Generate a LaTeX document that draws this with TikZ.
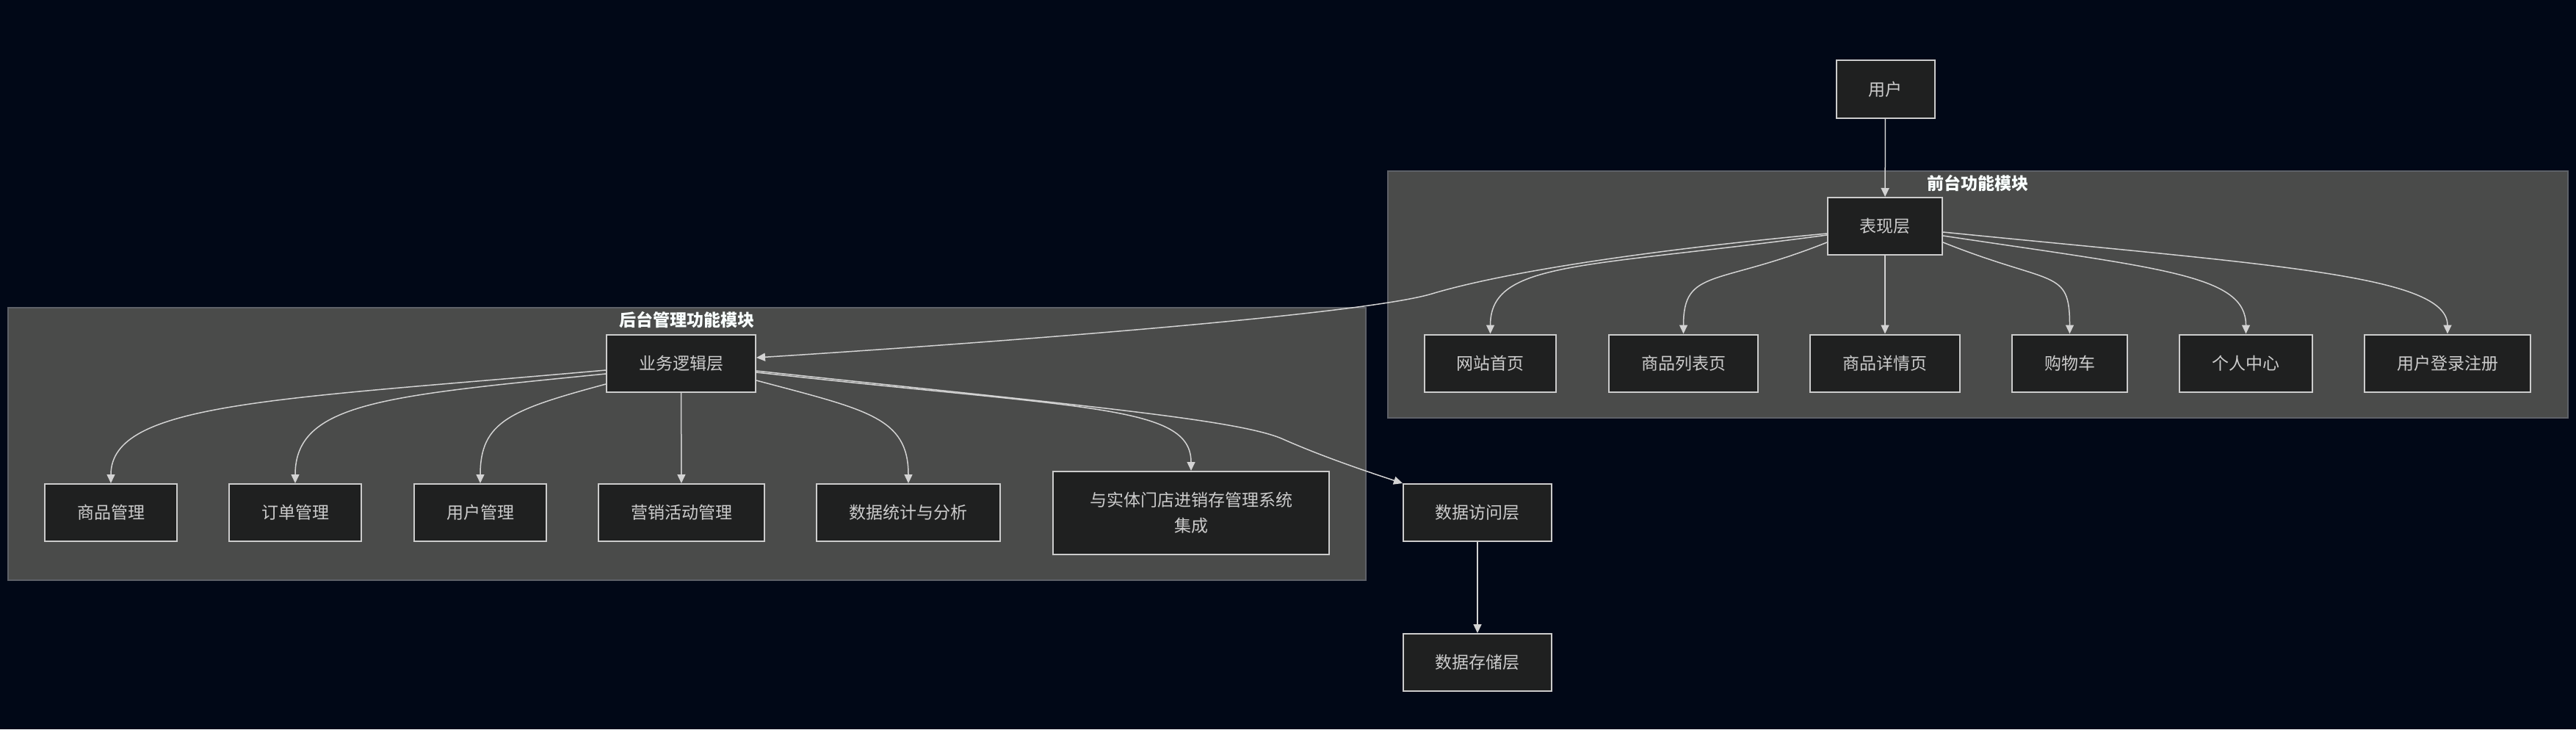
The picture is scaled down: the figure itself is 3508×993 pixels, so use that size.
\documentclass[tikz,border=0pt]{standalone}
\usepackage{fontspec}
\setmainfont{Noto Sans CJK SC}
\usetikzlibrary{arrows.meta,calc}
\definecolor{bgc}{HTML}{010817}
\definecolor{clfill}{HTML}{4A4B4A}
\definecolor{clborder}{HTML}{5E6168}
\definecolor{nfill}{HTML}{1F2020}
\definecolor{nborder}{HTML}{CCCCCC}
\definecolor{ntext}{HTML}{CCCCCC}
\definecolor{ttext}{HTML}{F9FFFE}
\definecolor{lclr}{HTML}{D3D3D3}
\begin{document}
\begin{tikzpicture}[x=1pt,y=-1pt,
  box/.style={draw=nborder, line width=2pt, fill=nfill, text=ntext, inner sep=0pt,
    font=\fontsize{23}{35}\selectfont, align=center, minimum height=78pt},
  cluster/.style={draw=clborder, line width=1.5pt, fill=clfill, inner sep=0pt},
  ctitle/.style={text=ttext, font=\fontsize{23}{28}\selectfont\bfseries},
  edge/.style={draw=lclr, line width=1.5pt, -{Triangle[length=12pt,width=11pt]}}
]
\useasboundingbox (0,0) rectangle (3508,993);
\fill[bgc] (0,0) rectangle (3508,993);

% clusters
\node[cluster, minimum width=1607pt, minimum height=336pt] (front) at (2693.5,401) {};
\node[cluster, minimum width=1849pt, minimum height=371pt] (back) at (935.5,604.5) {};
\node[ctitle] (ftitle) at (2693,250) {前台功能模块};
\node[ctitle] (btitle) at (935,436) {后台管理功能模块};

% nodes
\node[box, minimum width=134pt, minimum height=79pt] (user) at (2567.5,121.5) {用户};
\node[box, minimum width=156pt] (pres) at (2567,308) {表现层};
\node[box, minimum width=179pt] (home) at (2029.5,494.5) {网站首页};
\node[box, minimum width=203pt] (plist) at (2292.5,494.5) {商品列表页};
\node[box, minimum width=204pt] (pdetail) at (2567,494.5) {商品详情页};
\node[box, minimum width=157pt] (cart) at (2818.5,494.5) {购物车};
\node[box, minimum width=181pt] (ucenter) at (3058.5,494.5) {个人中心};
\node[box, minimum width=226pt] (login) at (3333,494.5) {用户登录注册};

\node[box, minimum width=203pt] (biz) at (927.5,495) {业务逻辑层};
\node[box, minimum width=180pt] (prod) at (151,698) {商品管理};
\node[box, minimum width=180pt] (order) at (402,698) {订单管理};
\node[box, minimum width=180pt] (umgmt) at (654,698) {用户管理};
\node[box, minimum width=226pt] (mkt) at (928,698) {营销活动管理};
\node[box, minimum width=250pt] (stats) at (1237,698) {数据统计与分析};
\node[box, minimum width=376pt, minimum height=113pt] (store) at (1622,698.5) {与实体门店进销存管理系统\\集成};
\node[box, minimum width=202pt] (dal) at (2012,698) {数据访问层};
\node[box, minimum width=202pt] (dsl) at (2012,902) {数据存储层};

% edges
\draw[edge] (user) -- (pres);
\draw[edge] ($(pres.west)+(0,12)$) .. controls +(-330,45) and +(0,-100) .. (home.north);
\draw[edge] ($(pres.west)+(0,22)$) .. controls +(-150,60) and +(0,-90) .. (plist.north);
\draw[edge] (pres) -- (pdetail);
\draw[edge] ($(pres.east)+(0,22)$) .. controls +(150,60) and +(0,-90) .. (cart.north);
\draw[edge] ($(pres.east)+(0,13)$) .. controls +(300,45) and +(0,-80) .. (ucenter.north);
\draw[edge] ($(pres.east)+(0,8)$) .. controls +(450,45) and +(0,-80) .. (login.north);
\coordinate (pbmid) at (1950,400);
\draw[edge] ($(pres.west)+(0,10)$) .. controls (2250,340) and (2050,370) .. (pbmid)
   .. controls (1850,430) and (1300,470) .. ($(biz.east)+(0,-8)$);

\draw[edge] ($(biz.west)+(0,9)$) .. controls +(-450,40) and +(0,-110) .. (prod.north);
\draw[edge] ($(biz.west)+(0,14)$) .. controls +(-300,30) and +(0,-110) .. (order.north);
\draw[edge] ($(biz.west)+(0,28)$) .. controls +(-130,35) and +(0,-84) .. (umgmt.north);
\draw[edge] (biz) -- (mkt);
\draw[edge] ($(biz.east)+(0,23)$) .. controls +(150,40) and +(0,-90) .. (stats.north);
\draw[edge] ($(biz.east)+(0,12)$) .. controls +(450,50) and +(0,-90) .. (store.north);
\coordinate (bdmid) at (1745,597);
\draw[edge] ($(biz.east)+(0,10)$) .. controls (1450,550) and (1680,570) .. (bdmid)
   .. controls (1790,617) and (1840,635) .. (dal.north west);
\draw[edge] (dal) -- (dsl);
\end{tikzpicture}
\end{document}
